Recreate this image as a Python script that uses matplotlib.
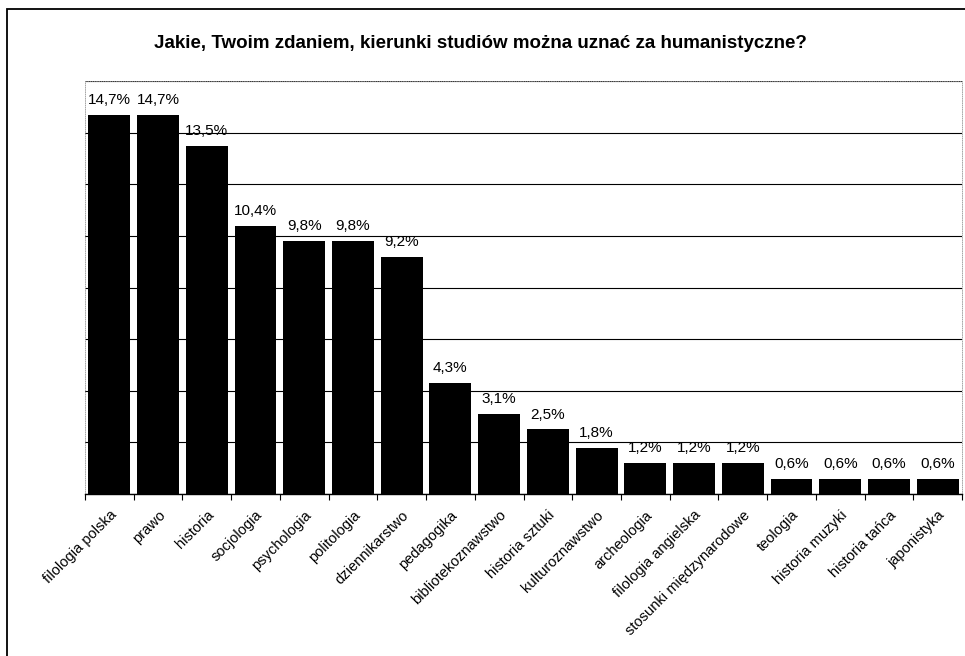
import numpy as np
import matplotlib.pyplot as plt
import matplotlib as mpl
from matplotlib.patches import Rectangle

mpl.rcParams['font.family'] = ['Liberation Sans', 'DejaVu Sans']

categories = ["filologia polska", "prawo", "historia", "socjologia", "psychologia",
              "politologia", "dziennikarstwo", "pedagogika", "bibliotekoznawstwo",
              "historia sztuki", "kulturoznawstwo", "archeologia", "filologia angielska",
              "stosunki międzynarodowe", "teologia", "historia muzyki", "historia tańca",
              "japonistyka"]
values = [14.7, 14.7, 13.5, 10.4, 9.8, 9.8, 9.2, 4.3, 3.1, 2.5, 1.8, 1.2, 1.2, 1.2,
          0.6, 0.6, 0.6, 0.6]
value_labels = ["14,7%", "14,7%", "13,5%", "10,4%", "9,8%", "9,8%", "9,2%", "4,3%",
                "3,1%", "2,5%", "1,8%", "1,2%", "1,2%", "1,2%", "0,6%", "0,6%",
                "0,6%", "0,6%"]
title = "Jakie, Twoim zdaniem, kierunki studiów można uznać za humanistyczne?"

fig = plt.figure(figsize=(9.65, 6.56), dpi=100)
# outer frame of the chart (bottom and right run off the page)
fig.patches.append(Rectangle((7/965, -10/656), 970/965, 657/656, transform=fig.transFigure,
                             fill=False, edgecolor='black', linewidth=1.3))

ax = fig.add_axes([85/965, 162/656, 877/965, 413/656])
x = np.arange(len(categories))
ax.bar(x, values, width=0.86, color='black', zorder=3)
ax.set_xlim(-0.5, len(categories) - 0.5)
ax.set_ylim(0, 16)

for xi, v, lab in zip(x, values, value_labels):
    ax.text(xi, v + 0.3, lab, ha='center', va='bottom', fontsize=11, zorder=4)

ax.set_yticks(np.arange(0, 17, 2))
ax.set_yticklabels([])
ax.tick_params(axis='y', length=0)
ax.yaxis.grid(True, color='black', linewidth=0.8, zorder=0)

ax.set_xticks(x)
ax.set_xticklabels(categories, rotation=45, ha='right', rotation_mode='anchor', fontsize=10.5)
ax.tick_params(axis='x', length=0, pad=10)
ax.set_xticks(np.arange(-0.5, len(categories), 1), minor=True)
ax.tick_params(axis='x', which='minor', length=4, width=0.8, direction='out')

for s in ['left', 'top', 'right']:
    ax.spines[s].set_color('#999999')
    ax.spines[s].set_linewidth(0.6)
    ax.spines[s].set_linestyle(':')
ax.spines['bottom'].set_color('black')
ax.spines['bottom'].set_linewidth(1)

fig.text(0.498, 1 - 43/656, title, ha='center', va='center', fontsize=13.5, fontweight='bold')

fig.savefig("out.png", dpi=100)
